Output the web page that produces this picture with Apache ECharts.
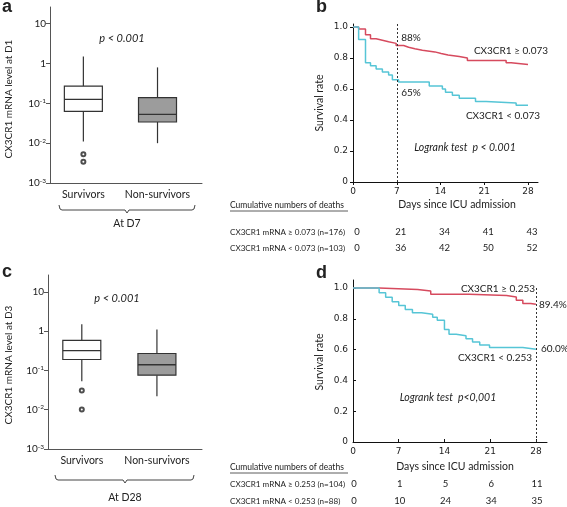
<!DOCTYPE html>
<html><head><meta charset="utf-8">
<script src="https://cdn.jsdelivr.net/npm/echarts@6/dist/echarts.min.js"></script>
<style>html,body{margin:0;padding:0;background:#fff}#c{width:567px;height:507px}</style>
</head><body><div id="c"></div>
<script>
// ---------- data ----------
const groups = ['Survivors', 'Non-survivors'];
// box stats: [low whisker, Q1, median, Q3, high whisker] (CX3CR1 mRNA level)
const boxA = [[0.011, 0.063, 0.126, 0.27, 1.5], [0.010, 0.034, 0.053, 0.14, 0.8]];
const outliersA = [[0, 0.0053], [0, 0.0034]];
const boxC = [[0.053, 0.19, 0.32, 0.58, 1.5], [0.022, 0.076, 0.14, 0.27, 1.1]];
const outliersC = [[0, 0.031], [0, 0.0102]];
const logTicks = [-3, -2, -1, 0, 1];

const kmTicks = [0, 7, 14, 21, 28];
const survTicks = [0, 0.2, 0.4, 0.6, 0.8, 1.0];
// Kaplan-Meier curves: [day, survival]
const kmB_high = [[0,1],[0.9,0.987],[2.0,0.95],[2.8,0.925],[3.7,0.915],[4.7,0.905],[5.7,0.895],[6.9,0.881],[8.1,0.87],[8.9,0.86],[9.9,0.85],[11.1,0.84],[13.1,0.83],[14.1,0.82],[15.2,0.81],[17.0,0.80],[18.3,0.785],[24.5,0.77],[25.3,0.758],[28,0.756]];
const kmB_low = [[0,1],[0.9,0.92],[2.0,0.77],[2.8,0.75],[3.7,0.73],[4.7,0.71],[5.7,0.69],[6.3,0.66],[7.3,0.645],[12.2,0.62],[14.3,0.60],[14.8,0.58],[15.9,0.56],[17.0,0.54],[19.6,0.52],[21.3,0.51],[26.1,0.495],[28,0.495]];
const kmD_high = [[0,1],[4.0,0.99],[9.9,0.98],[11.9,0.96],[17.8,0.952],[23.5,0.942],[25.0,0.92],[26.0,0.90],[27.2,0.894],[28,0.894]];
const kmD_low = [[0,1],[4.0,0.97],[5.0,0.94],[6.0,0.91],[7.0,0.886],[8.0,0.86],[9.1,0.84],[10.5,0.83],[12.2,0.81],[12.9,0.79],[14.0,0.73],[14.7,0.70],[15.8,0.69],[17.3,0.67],[18.3,0.65],[19.4,0.63],[20.9,0.614],[26.0,0.602],[28,0.602]];

const deathsB_high = [0, 21, 34, 41, 43];
const deathsB_low = [0, 36, 42, 50, 52];
const deathsD_high = [0, 1, 5, 6, 11];
const deathsD_low = [0, 10, 24, 34, 35];
const rowLabelsB = ['CX3CR1 mRNA ≥ 0.073 (n=176)', 'CX3CR1 mRNA < 0.073 (n=103)'];
const rowLabelsD = ['CX3CR1 mRNA ≥ 0.253 (n=104)', 'CX3CR1 mRNA < 0.253 (n=88)'];

// ---------- styles ----------
const RED = '#d64a5e', CYAN = '#56c5d6';
const FONT = 'Lato, "Noto Sans", sans-serif';
const VFONT = '"DejaVu Sans", Verdana, sans-serif';
const chart = echarts.init(document.getElementById('c'), null, {renderer: 'canvas', width: 567, height: 507});

function logLabel(v) {
  if (v === 1) return '{n|10}';
  if (v === 0) return '{n|1}';
  return '{n|10}{s|' + v + '}';
}
const logRich = {
  n: {fontSize: 10, fontFamily: FONT, color: '#222', lineHeight: 12},
  s: {fontSize: 6.5, fontFamily: FONT, color: '#222', verticalAlign: 'top', lineHeight: 8, padding: [0, 0, 4, 0]}
};
function boxXAxis(gi) {
  return {gridIndex: gi, type: 'value', min: -0.45, max: 1.6,
    axisLine: {show: true, onZero: false, lineStyle: {color: '#555', width: 1}},
    axisTick: {show: false}, splitLine: {show: false},
    axisLabel: {customValues: [0, 1], formatter: v => groups[Math.round(v)], margin: 6,
      fontSize: 10.5, fontFamily: FONT, color: '#222'}};
}
function boxYAxis(gi, max) {
  return {gridIndex: gi, type: 'value', min: -3, max: max,
    axisLine: {show: true, onZero: false, lineStyle: {color: '#555', width: 1}},
    axisTick: {show: true, customValues: logTicks, length: 4, lineStyle: {color: '#555'}},
    splitLine: {show: false},
    axisLabel: {customValues: logTicks, formatter: logLabel, rich: logRich, margin: 4}};
}
function kmXAxis(gi, max, inside) {
  return {gridIndex: gi, type: 'value', min: 0, max: max,
    axisLine: {show: true, onZero: false, lineStyle: {color: '#111', width: 1}},
    axisTick: {show: true, inside: inside, customValues: kmTicks, length: 3, lineStyle: {color: '#111'}},
    splitLine: {show: false},
    axisLabel: {customValues: kmTicks, margin: 5, fontSize: 9, fontFamily: VFONT, color: '#222'}};
}
function kmYAxis(gi, max, inside) {
  return {gridIndex: gi, type: 'value', min: 0, max: max,
    axisLine: {show: true, onZero: false, lineStyle: {color: '#111', width: 1}},
    axisTick: {show: true, inside: inside, customValues: survTicks, length: 3, lineStyle: {color: '#111'}},
    splitLine: {show: false},
    axisLabel: {customValues: survTicks, formatter: v => v === 0 ? '0' : v.toFixed(1), margin: 5,
      fontSize: 9, fontFamily: VFONT, color: '#222'}};
}
function boxRender(params, api) {
  const i = api.value(0);
  const x = api.coord([i, 0])[0];
  const lo = api.coord([i, api.value(1)])[1];
  const q1 = api.coord([i, api.value(2)])[1];
  const md = api.coord([i, api.value(3)])[1];
  const q3 = api.coord([i, api.value(4)])[1];
  const hi = api.coord([i, api.value(5)])[1];
  const hw = 19;
  const st = {stroke: '#333', lineWidth: 1.2};
  return {type: 'group', children: [
    {type: 'line', shape: {x1: x, y1: hi, x2: x, y2: q3}, style: st},
    {type: 'line', shape: {x1: x, y1: q1, x2: x, y2: lo}, style: st},
    {type: 'rect', shape: {x: x - hw, y: q3, width: 2 * hw, height: q1 - q3},
      style: {fill: i === 0 ? '#ffffff' : '#9c9c9c', stroke: '#333', lineWidth: 1.2}},
    {type: 'line', shape: {x1: x - hw, y1: md, x2: x + hw, y2: md}, style: {stroke: '#333', lineWidth: 1.4}}
  ]};
}
const toLogBox = arr => arr.map((b, i) => [i].concat(b.map(v => Math.log10(v))));
const toLogPts = arr => arr.map(p => [p[0], Math.log10(p[1])]);
function boxSeries(gi, box, outl) {
  return [
    {type: 'custom', xAxisIndex: gi, yAxisIndex: gi, renderItem: boxRender, data: toLogBox(box),
      encode: {x: 0, y: [1, 2, 3, 4, 5]}, silent: true},
    {type: 'scatter', xAxisIndex: gi, yAxisIndex: gi, data: toLogPts(outl), symbol: 'emptyCircle',
      symbolSize: 4, itemStyle: {color: '#222', borderWidth: 1.5}, silent: true}
  ];
}
function kmLine(gi, data, color, markLine) {
  const s = {type: 'line', xAxisIndex: gi, yAxisIndex: gi, data: data, step: 'end', showSymbol: false,
    lineStyle: {color: color, width: 1.5}, itemStyle: {color: color}, silent: true, z: color === CYAN ? 3 : 2};
  if (markLine) s.markLine = markLine;
  return s;
}
const dotted = {type: [2, 2], color: '#333', width: 1};

const option = {
  animation: false,
  backgroundColor: '#fff',
  grid: [
    {left: 50, top: 7, width: 152, height: 176},
    {left: 353, top: 24, width: 185, height: 158},
    {left: 48, top: 275, width: 154, height: 174},
    {left: 353, top: 280, width: 194, height: 162}
  ],
  xAxis: [boxXAxis(0), kmXAxis(1, 29.6, false), boxXAxis(2), kmXAxis(3, 29.7, true)],
  yAxis: [boxYAxis(0, 1.42), kmYAxis(1, 1.02, false), boxYAxis(2, 1.43), kmYAxis(3, 1.052, true)],
  series: [].concat(
    boxSeries(0, boxA, outliersA),
    boxSeries(2, boxC, outliersC),
    [
      kmLine(1, kmB_high, RED, {silent: true, symbol: 'none', label: {show: false}, lineStyle: dotted, data: [{xAxis: 7}]}),
      kmLine(1, kmB_low, CYAN),
      kmLine(3, kmD_high, RED, {silent: true, symbol: 'none', label: {show: false}, lineStyle: dotted,
        data: [[{coord: [28, 0]}, {coord: [28, 1.01]}]]}),
      kmLine(3, kmD_low, CYAN)
    ]
  )
};
chart.setOption(option);

// ---------- annotations ----------
function txt(x, y, text, o) {
  o = o || {};
  return {type: 'text', x: x, y: y, rotation: o.rot || 0, silent: true,
    style: {text: text, fill: o.color || '#222', font: (o.style || '') + ' ' + (o.weight || '') + ' ' + (o.size || 10) + 'px ' + (o.family || FONT),
      textAlign: o.align || 'center', textVerticalAlign: o.valign || 'middle'}};
}
function brace(x1, x2, xm, y) {
  return {type: 'polyline', silent: true,
    shape: {points: [[x1, y - 5], [x1 + 1, y - 1], [x1 + 3, y], [xm - 2, y], [xm, y + 3], [xm + 2, y], [x2 - 3, y], [x2 - 1, y - 1], [x2, y - 5]]},
    style: {stroke: '#444', lineWidth: 1, fill: null}};
}
const g = [];
const LF = '"Liberation Sans", Arial';
g.push(txt(2, 16, 'a', {align: 'left', valign: 'bottom', size: 18, weight: 'bold', family: LF}));
g.push(txt(316, 16, 'b', {align: 'left', valign: 'bottom', size: 18, weight: 'bold', family: LF}));
g.push(txt(2, 281, 'c', {align: 'left', valign: 'bottom', size: 18, weight: 'bold', family: LF}));
g.push(txt(316, 282, 'd', {align: 'left', valign: 'bottom', size: 18, weight: 'bold', family: LF}));
// panel a
g.push(txt(122, 38, 'p < 0.001', {style: 'italic', size: 11}));
g.push(txt(9, 99, 'CX3CR1 mRNA level at D1', {rot: Math.PI / 2, size: 10}));
g.push(brace(59, 195, 127, 210));
g.push(txt(127, 224, 'At D7', {size: 10.5}));
// panel c
g.push(txt(117, 298, 'p < 0.001', {style: 'italic', size: 11}));
g.push(txt(9, 365, 'CX3CR1 mRNA level at D3', {rot: Math.PI / 2, size: 10}));
g.push(brace(55, 194, 125, 480));
g.push(txt(125, 498, 'At D28', {size: 10.5}));
// panel b
g.push(txt(320, 103, 'Survival rate', {rot: Math.PI / 2, size: 10.5}));
g.push(txt(411, 38, '88%', {size: 10}));
g.push(txt(411, 93, '65%', {size: 10}));
g.push(txt(511, 51, 'CX3CR1 ≥ 0.073', {size: 10}));
g.push(txt(503, 116, 'CX3CR1 < 0.073', {size: 10}));
g.push(txt(465, 148, 'Logrank test  p < 0.001', {style: 'italic', size: 10.5}));
g.push(txt(457, 205, 'Days since ICU admission', {size: 10.5}));
// panel d
g.push(txt(320, 362, 'Survival rate', {rot: Math.PI / 2, size: 10.5}));
g.push(txt(498, 289, 'CX3CR1 ≥ 0.253', {size: 10}));
g.push(txt(539, 305, '89.4%', {size: 10, align: 'left'}));
g.push(txt(541, 349, '60.0%', {size: 10, align: 'left'}));
g.push(txt(495, 358, 'CX3CR1 < 0.253', {size: 10}));
g.push(txt(448, 398, 'Logrank test  p<0,001', {style: 'italic', size: 10.5}));
g.push(txt(455, 467, 'Days since ICU admission', {size: 10.5}));

// tables
function table(xIdx, yHead, rowY, labels, rows, dx) {
  g.push(txt(230, yHead, 'Cumulative numbers of deaths', {align: 'left', size: 8.5}));
  g.push({type: 'line', silent: true, shape: {x1: 230, y1: yHead + 6, x2: 348, y2: yHead + 6}, style: {stroke: '#333', lineWidth: 0.8}});
  rows.forEach((row, r) => {
    g.push(txt(230, rowY[r], labels[r], {align: 'left', size: 8.1}));
    row.forEach((v, k) => {
      const px = chart.convertToPixel({xAxisIndex: xIdx}, kmTicks[k]) + dx;
      g.push(txt(px, rowY[r], String(v), {size: 9.5}));
    });
  });
}
table(1, 205, [232, 248], rowLabelsB, [deathsB_high, deathsB_low], 4);
table(3, 467, [484, 501], rowLabelsD, [deathsD_high, deathsD_low], 1);

chart.setOption({graphic: {elements: g}});
</script>
</body></html>
